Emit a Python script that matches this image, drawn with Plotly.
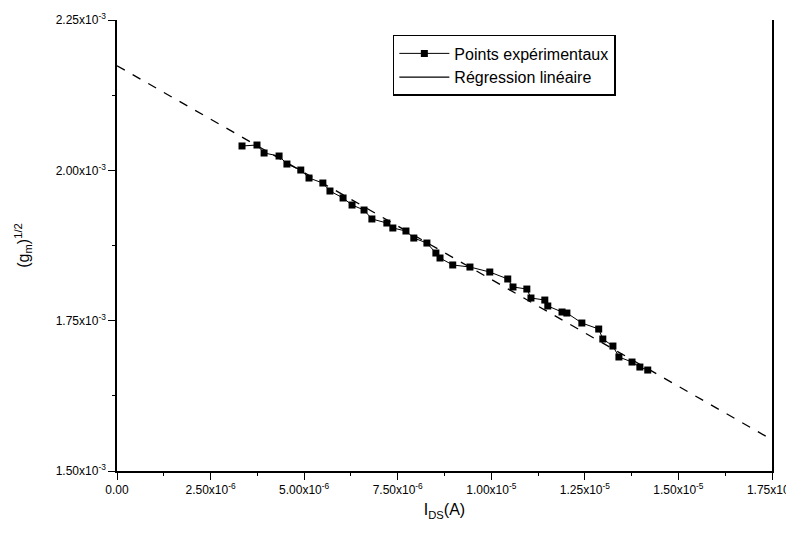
import plotly.graph_objects as go

# experimental points: I_DS (A) vs sqrt(gm)
ids_values = [3.34e-6, 3.74e-6, 3.93e-6, 4.33e-6, 4.54e-6, 4.91e-6, 5.13e-6, 5.50e-6,
              5.69e-6, 6.04e-6, 6.28e-6, 6.60e-6, 6.81e-6, 7.21e-6, 7.37e-6, 7.72e-6,
              7.93e-6, 8.28e-6, 8.52e-6, 8.63e-6, 8.97e-6, 9.43e-6, 9.96e-6, 1.044e-5,
              1.058e-5, 1.095e-5, 1.106e-5, 1.143e-5, 1.151e-5, 1.189e-5, 1.202e-5, 1.242e-5,
              1.287e-5, 1.298e-5, 1.325e-5, 1.341e-5, 1.376e-5, 1.397e-5, 1.418e-5]
sqrt_gm = [2.0405e-3, 2.0421e-3, 2.0288e-3, 2.0238e-3, 2.0105e-3, 2.0005e-3, 1.9872e-3, 1.9789e-3,
           1.9656e-3, 1.9540e-3, 1.9423e-3, 1.9340e-3, 1.9191e-3, 1.9124e-3, 1.9041e-3, 1.8991e-3,
           1.8874e-3, 1.8791e-3, 1.8625e-3, 1.8542e-3, 1.8426e-3, 1.8392e-3, 1.8309e-3, 1.8193e-3,
           1.8060e-3, 1.8026e-3, 1.7877e-3, 1.7843e-3, 1.7744e-3, 1.7644e-3, 1.7627e-3, 1.7461e-3,
           1.7361e-3, 1.7195e-3, 1.7078e-3, 1.6896e-3, 1.6812e-3, 1.6729e-3, 1.6679e-3]

# linear regression end points
reg_x = [0.0, 1.75e-5]
reg_y = [2.174e-3, 1.552e-3]

x_tickvals = [0, 2.5e-6, 5e-6, 7.5e-6, 1e-5, 1.25e-5, 1.5e-5, 1.75e-5]
x_ticktext = ["0.00", "2.50x10<sup>-6</sup>", "5.00x10<sup>-6</sup>", "7.50x10<sup>-6</sup>",
              "1.00x10<sup>-5</sup>", "1.25x10<sup>-5</sup>", "1.50x10<sup>-5</sup>",
              "1.75x10<sup>-5</sup>"]
y_tickvals = [1.5e-3, 1.75e-3, 2.0e-3, 2.25e-3]
y_ticktext = ["1.50x10<sup>-3</sup>", "1.75x10<sup>-3</sup>", "2.00x10<sup>-3</sup>",
              "2.25x10<sup>-3</sup>"]

FONT = "Liberation Sans, Arial"

fig = go.Figure()

fig.add_trace(go.Scatter(
    x=reg_x, y=reg_y, mode="lines",
    line=dict(color="black", width=1.3, dash="dash"),
    showlegend=False, hoverinfo="skip",
))
fig.add_trace(go.Scatter(
    x=ids_values, y=sqrt_gm, mode="lines+markers",
    name="Points expérimentaux",
    line=dict(color="black", width=1),
    marker=dict(symbol="square", size=7, color="black"),
))
# legend entry for the regression (solid sample as in the original legend)
fig.add_trace(go.Scatter(
    x=[None], y=[None], mode="lines",
    name="Régression linéaire",
    line=dict(color="black", width=1.3),
))

axis_common = dict(
    showline=True, linecolor="black", linewidth=1.5,
    showgrid=False, zeroline=False, automargin=False,
    ticks="outside", ticklen=7, tickwidth=1.3, tickcolor="black",
    ticklabeloverflow="allow",
    tickfont=dict(family=FONT, size=12, color="black"),
)

fig.update_xaxes(
    range=[0, 1.75e-5], tickvals=x_tickvals, ticktext=x_ticktext,
    title=dict(text="I<sub>DS</sub>(A)", font=dict(family=FONT, size=16, color="black"),
               standoff=8),
    minor=dict(ticks="outside", ticklen=3, tickcolor="black", dtick=1.25e-6),
    **axis_common,
)
fig.update_yaxes(
    range=[1.5e-3, 2.25e-3], tickvals=y_tickvals, ticktext=y_ticktext,
    mirror=True,
    title=dict(text="(g<sub>m</sub>)<sup>1/2</sup>", font=dict(family=FONT, size=16, color="black"),
               standoff=22),
    minor=dict(ticks="outside", ticklen=3, tickcolor="black", dtick=0.125e-3),
    **axis_common,
)

# the page adds an 8 px body margin, so the figure is a bit smaller than the window
fig.update_layout(
    width=786, height=527,
    margin=dict(l=109, r=22, t=12, b=64),
    paper_bgcolor="white", plot_bgcolor="white",
    legend=dict(
        x=0.421, y=0.967, xanchor="left", yanchor="top",
        bordercolor="black", borderwidth=1.6, bgcolor="white",
        font=dict(family=FONT, size=16, color="black"),
        itemwidth=50, tracegroupgap=2,
    ),
)

fig.write_html("out.html")
